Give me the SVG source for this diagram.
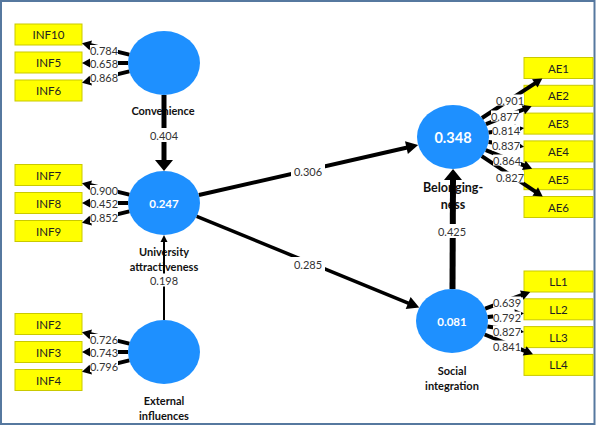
<svg xmlns="http://www.w3.org/2000/svg" width="597" height="426" viewBox="0 0 597 426">
<style>
.lv{fill:#1e90ff;}
.ind{fill:#ffff00;stroke:#c9c900;stroke-width:1;}
.it{font-family:Lato,"Open Sans",sans-serif;font-size:11.5px;fill:#222;text-anchor:middle;dominant-baseline:central;}
.nm{font-family:Lato,"Open Sans",sans-serif;font-size:11px;font-weight:bold;fill:#111;text-anchor:middle;dominant-baseline:central;}
.r2{font-family:Lato,"Open Sans",sans-serif;font-size:11.5px;font-weight:bold;fill:#fff;text-anchor:middle;dominant-baseline:central;}
.vl{font-family:Lato,"Open Sans",sans-serif;font-size:11px;fill:#333;text-anchor:middle;dominant-baseline:central;}
.bg{fill:#fff;}
.ld{stroke:#000;stroke-width:4;fill:none;marker-end:url(#mld);}
.pb{stroke:#000;fill:none;marker-end:url(#mbig);}
.pm{stroke:#000;fill:none;marker-end:url(#mmid);}
</style>
<defs>
<marker id="mld" markerUnits="userSpaceOnUse" orient="auto" markerWidth="10" markerHeight="10" refX="2" refY="5" overflow="visible"><path d="M0,0 L9,5 L0,10 z" fill="#000"/></marker>
<marker id="mbig" markerUnits="userSpaceOnUse" orient="auto" markerWidth="11" markerHeight="18" refX="2" refY="9" overflow="visible"><path d="M0,0 L11,9 L0,18 z" fill="#000"/></marker>
<marker id="mmid" markerUnits="userSpaceOnUse" orient="auto" markerWidth="12" markerHeight="13" refX="2" refY="6.5" overflow="visible"><path d="M0,0 L12,6.5 L0,13 z" fill="#000"/></marker>
<marker id="msm" markerUnits="userSpaceOnUse" orient="auto" markerWidth="7" markerHeight="7" refX="2" refY="3.5" overflow="visible"><path d="M0,0 L7,3.5 L0,7 z" fill="#000"/></marker>
</defs>
<rect x="0" y="0" width="597" height="426" fill="#fff"/>
<rect x="1" y="1" width="593.5" height="423" fill="none" stroke="#56789f" stroke-width="2"/>

<g id="convenience"><ellipse class="lv" cx="164" cy="63" rx="36" ry="32"/><text class="nm" x="163" y="110">Convenience</text></g>
<g id="university"><ellipse class="lv" cx="164" cy="203" rx="36" ry="32"/><text class="r2" x="164" y="203">0.247</text><text class="nm" x="164" y="251">University</text><text class="nm" x="164" y="266.5">attractiveness</text></g>
<g id="external"><ellipse class="lv" cx="164" cy="352" rx="36" ry="32"/><text class="nm" x="164" y="400">External</text><text class="nm" x="164" y="415">influences</text></g>
<g id="belonging"><ellipse class="lv" cx="453" cy="137" rx="36" ry="32"/><text class="r2" x="453" y="137" style="font-size:14.5px">0.348</text><text class="nm" x="453" y="187" style="font-size:12.5px">Belonging-</text><text class="nm" x="453" y="204" style="font-size:12.5px">ness</text></g>
<g id="social"><ellipse class="lv" cx="452" cy="321" rx="36" ry="32"/><text class="r2" x="452" y="321">0.081</text><text class="nm" x="452" y="370">Social</text><text class="nm" x="452" y="385">integration</text></g>

<g id="INF10"><rect class="ind" x="15" y="24" width="67" height="21"/><text class="it" x="48.5" y="34.5">INF10</text></g>
<g id="INF5"><rect class="ind" x="15" y="52" width="67" height="21"/><text class="it" x="48.5" y="62.5">INF5</text></g>
<g id="INF6"><rect class="ind" x="15" y="80" width="67" height="21"/><text class="it" x="48.5" y="90.5">INF6</text></g>
<g id="INF7"><rect class="ind" x="15" y="164.5" width="67" height="21"/><text class="it" x="48.5" y="175">INF7</text></g>
<g id="INF8"><rect class="ind" x="15" y="192.5" width="67" height="21"/><text class="it" x="48.5" y="203">INF8</text></g>
<g id="INF9"><rect class="ind" x="15" y="220.5" width="67" height="21"/><text class="it" x="48.5" y="231">INF9</text></g>
<g id="INF2"><rect class="ind" x="15" y="313.5" width="67" height="21"/><text class="it" x="48.5" y="324">INF2</text></g>
<g id="INF3"><rect class="ind" x="15" y="341.5" width="67" height="21"/><text class="it" x="48.5" y="352">INF3</text></g>
<g id="INF4"><rect class="ind" x="15" y="369.5" width="67" height="21"/><text class="it" x="48.5" y="380">INF4</text></g>
<g id="AE1"><rect class="ind" x="524" y="57.5" width="69" height="21"/><text class="it" x="558.5" y="68">AE1</text></g>
<g id="AE2"><rect class="ind" x="524" y="85.3" width="69" height="21"/><text class="it" x="558.5" y="95.8">AE2</text></g>
<g id="AE3"><rect class="ind" x="524" y="113.1" width="69" height="21"/><text class="it" x="558.5" y="123.6">AE3</text></g>
<g id="AE4"><rect class="ind" x="524" y="140.9" width="69" height="21"/><text class="it" x="558.5" y="151.4">AE4</text></g>
<g id="AE5"><rect class="ind" x="524" y="168.7" width="69" height="21"/><text class="it" x="558.5" y="179.2">AE5</text></g>
<g id="AE6"><rect class="ind" x="524" y="196.5" width="69" height="21"/><text class="it" x="558.5" y="207">AE6</text></g>
<g id="LL1"><rect class="ind" x="524" y="271" width="69" height="21"/><text class="it" x="558.5" y="281.5">LL1</text></g>
<g id="LL2"><rect class="ind" x="524" y="298.8" width="69" height="21"/><text class="it" x="558.5" y="309.3">LL2</text></g>
<g id="LL3"><rect class="ind" x="524" y="326.6" width="69" height="21"/><text class="it" x="558.5" y="337.1">LL3</text></g>
<g id="LL4"><rect class="ind" x="524" y="354.4" width="69" height="21"/><text class="it" x="558.5" y="364.9">LL4</text></g>

<g id="connectors">
<line class="ld" x1="129.3" y1="54.6" x2="88.8" y2="44.8"/>
<line class="ld" x1="128" y1="63" x2="89" y2="63"/>
<line class="ld" x1="129.3" y1="71.4" x2="88.8" y2="81.2"/>
<line class="ld" x1="129.3" y1="194.6" x2="88.8" y2="184.8"/>
<line class="ld" x1="128" y1="203" x2="89" y2="203"/>
<line class="ld" x1="129.3" y1="211.4" x2="88.8" y2="221.2"/>
<line class="ld" x1="129.3" y1="343.6" x2="88.8" y2="333.8"/>
<line class="ld" x1="128" y1="352" x2="89" y2="352"/>
<line class="ld" x1="129.3" y1="360.4" x2="88.8" y2="370.2"/>
<line class="ld" x1="482" y1="118" x2="536.5" y2="82.3"/>
<line class="ld" x1="486" y1="124.1" x2="525.1" y2="108.8"/>
<line class="ld" x1="488.6" y1="132.5" x2="517.1" y2="128.9"/>
<line class="ld" x1="488.6" y1="141.9" x2="517.1" y2="145.8"/>
<line class="ld" x1="485.8" y1="150.1" x2="525.7" y2="166.1"/>
<line class="ld" x1="481.8" y1="156.1" x2="536.9" y2="192.6"/>
<line class="ld" x1="485.2" y1="308.7" x2="523.6" y2="294.4"/>
<line class="ld" x1="487.7" y1="317.1" x2="517" y2="313.9"/>
<line class="ld" x1="487.5" y1="326.4" x2="517.1" y2="330.9"/>
<line class="ld" x1="484.7" y1="334.5" x2="526.5" y2="351.7"/>
<line class="pb" x1="164" y1="95" x2="164" y2="162" stroke-width="5"/>
<line x1="164" y1="320" x2="164" y2="240" stroke="#000" stroke-width="2" marker-end="url(#msm)"/>
<line class="pb" x1="452.5" y1="289" x2="453" y2="178" stroke-width="6"/>
<line class="pm" x1="198.9" y1="195" x2="408.4" y2="147.2" stroke-width="4"/>
<line class="pm" x1="196.7" y1="216.4" x2="410" y2="303.8" stroke-width="3.5"/>
<g class="bg">
<rect x="90" y="45" width="28" height="11"/>
<rect x="90" y="58" width="28" height="11"/>
<rect x="90" y="72" width="28" height="11"/>
<rect x="90" y="185" width="28" height="11"/>
<rect x="90" y="198" width="28" height="11"/>
<rect x="90" y="212" width="28" height="11"/>
<rect x="90" y="334" width="28" height="11"/>
<rect x="90" y="347" width="28" height="11"/>
<rect x="90" y="361" width="28" height="11"/>
<rect x="496" y="94.5" width="28" height="11"/>
<rect x="491" y="110.5" width="28" height="11"/>
<rect x="492" y="124.5" width="28" height="11"/>
<rect x="492" y="139.5" width="28" height="11"/>
<rect x="493" y="154.5" width="28" height="11"/>
<rect x="496" y="171.5" width="28" height="11"/>
<rect x="493" y="296.5" width="28" height="11"/>
<rect x="493" y="311.5" width="28" height="11"/>
<rect x="493" y="325.5" width="28" height="11"/>
<rect x="493" y="340.5" width="28" height="11"/>
<rect x="148" y="128" width="32" height="14"/>
<rect x="148" y="273.5" width="32" height="13"/>
<rect x="436" y="224" width="32" height="14"/>
<rect x="291" y="164" width="34" height="14"/>
<rect x="291" y="257" width="34" height="14"/>
</g>
<text class="vl" x="104" y="50.5">0.784</text>
<text class="vl" x="104" y="63.5">0.658</text>
<text class="vl" x="104" y="77.5">0.868</text>
<text class="vl" x="104" y="190.5">0.900</text>
<text class="vl" x="104" y="203.5">0.452</text>
<text class="vl" x="104" y="217.5">0.852</text>
<text class="vl" x="104" y="339.5">0.726</text>
<text class="vl" x="104" y="352.5">0.743</text>
<text class="vl" x="104" y="366.5">0.796</text>
<text class="vl" x="510" y="100">0.901</text>
<text class="vl" x="505" y="116">0.877</text>
<text class="vl" x="506" y="130">0.814</text>
<text class="vl" x="506" y="145">0.837</text>
<text class="vl" x="507" y="160">0.864</text>
<text class="vl" x="510" y="177">0.827</text>
<text class="vl" x="507" y="302">0.639</text>
<text class="vl" x="507" y="317">0.792</text>
<text class="vl" x="507" y="331">0.827</text>
<text class="vl" x="507" y="346">0.841</text>
<text class="vl" x="164" y="135">0.404</text>
<text class="vl" x="164" y="280">0.198</text>
<text class="vl" x="452" y="231">0.425</text>
<text class="vl" x="308" y="171">0.306</text>
<text class="vl" x="308" y="264">0.285</text>
</g>
</svg>
